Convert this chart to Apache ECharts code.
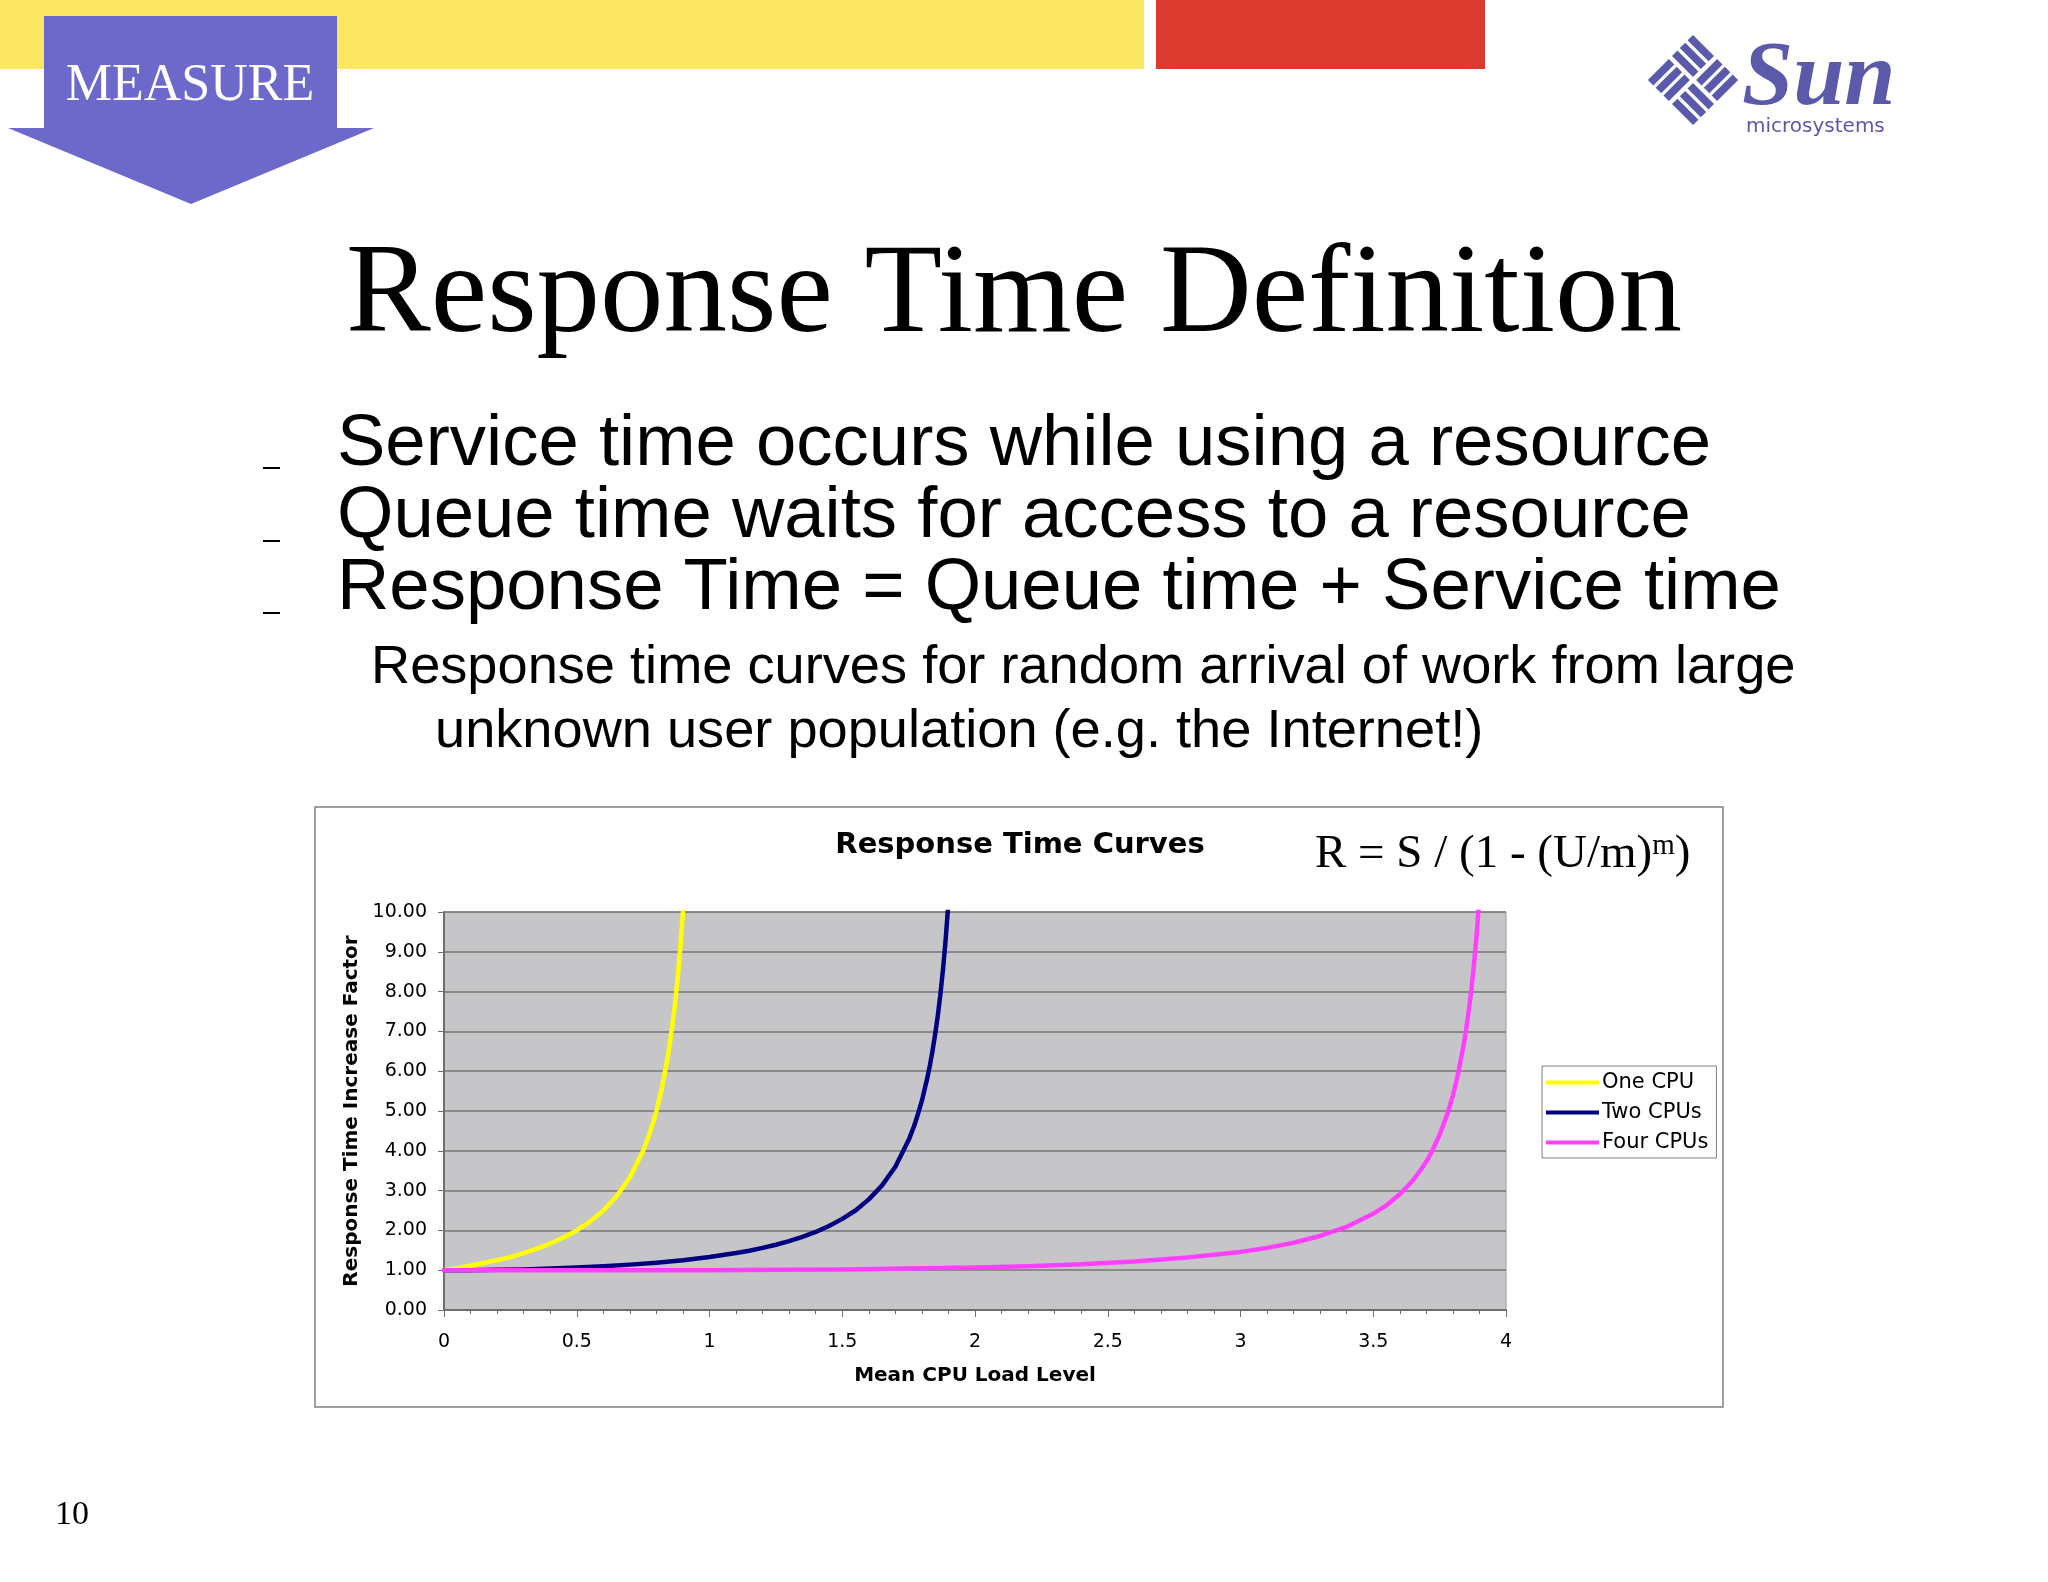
<!DOCTYPE html>
<html>
<head>
<meta charset="utf-8">
<script src="https://cdn.jsdelivr.net/npm/echarts@6/dist/echarts.min.js"></script>
<style>
html,body{margin:0;padding:0;background:#fff;}
#chart{width:2048px;height:1582px;}
</style>
</head>
<body>
<div id="chart"></div>
<script>
// ---- Data ----
const seriesNames = ['One CPU', 'Two CPUs', 'Four CPUs'];

const loadOne = [0, 0.05, 0.1, 0.15, 0.2, 0.25, 0.3, 0.35, 0.4, 0.45, 0.5, 0.55, 0.6, 0.65, 0.7, 0.75, 0.77, 0.79, 0.8, 0.82, 0.84, 0.85, 0.86, 0.87, 0.88, 0.89, 0.9];
const respOne = [1.00, 1.05, 1.11, 1.18, 1.25, 1.33, 1.43, 1.54, 1.67, 1.82, 2.00, 2.22, 2.50, 2.86, 3.33, 4.00, 4.35, 4.76, 5.00, 5.56, 6.25, 6.67, 7.14, 7.69, 8.33, 9.09, 10.00];

const loadTwo = [0, 0.1, 0.2, 0.3, 0.4, 0.5, 0.6, 0.7, 0.8, 0.9, 1.0, 1.05, 1.1, 1.15, 1.2, 1.25, 1.3, 1.35, 1.4, 1.45, 1.5, 1.55, 1.6, 1.65, 1.7, 1.75, 1.77, 1.78, 1.8, 1.82, 1.83, 1.84, 1.85, 1.86, 1.87, 1.88, 1.89, 1.9];
const respTwo = [1.00, 1.00, 1.01, 1.02, 1.04, 1.07, 1.10, 1.14, 1.19, 1.25, 1.33, 1.38, 1.43, 1.49, 1.56, 1.64, 1.73, 1.84, 1.96, 2.11, 2.29, 2.50, 2.78, 3.13, 3.60, 4.27, 4.61, 4.81, 5.26, 5.82, 6.14, 6.51, 6.93, 7.40, 7.95, 8.59, 9.35, 10.26];

const loadFour = [0, 0.25, 0.5, 0.75, 1.0, 1.25, 1.5, 1.75, 2.0, 2.2, 2.4, 2.6, 2.8, 3.0, 3.1, 3.2, 3.3, 3.4, 3.5, 3.55, 3.6, 3.65, 3.68, 3.7, 3.72, 3.75, 3.78, 3.8, 3.82, 3.84, 3.85, 3.86, 3.87, 3.88, 3.89, 3.9];
const respFour = [1.00, 1.00, 1.00, 1.00, 1.00, 1.01, 1.02, 1.04, 1.07, 1.10, 1.15, 1.22, 1.32, 1.46, 1.56, 1.69, 1.86, 2.09, 2.42, 2.63, 2.91, 3.26, 3.53, 3.73, 3.97, 4.40, 4.94, 5.39, 5.95, 6.64, 7.06, 7.53, 8.08, 8.72, 9.48, 10.38];

const xTickValues = ['0', '0.5', '1', '1.5', '2', '2.5', '3', '3.5', '4'];
const yTickValues = ['0.00', '1.00', '2.00', '3.00', '4.00', '5.00', '6.00', '7.00', '8.00', '9.00', '10.00'];

const bulletLines = [
  'Service time occurs while using a resource',
  'Queue time waits for access to a resource',
  'Response Time = Queue time + Service time'
];
const subLines = [
  'Response time curves for random arrival of work from large',
  'unknown user population (e.g. the Internet!)'
];

// ---- Build ----
function pairs(xs, ys) { return xs.map((x, i) => [x, ys[i]]); }

const chartFont = '"DejaVu Sans", Verdana, sans-serif';
const serif = '"Liberation Serif", "Times New Roman", serif';
const sans = '"Liberation Sans", Arial, sans-serif';
const sunColor = '#5B59A9';

// Sun logo stripes
const logoRects = [];
[-29, -19, -9].forEach(y => logoRects.push({type:'rect', shape:{x:-29, y:y, width:27, height:7}, style:{fill:sunColor}}));
[2, 12, 22].forEach(y => logoRects.push({type:'rect', shape:{x:2, y:y, width:27, height:7}, style:{fill:sunColor}}));
[2, 12, 22].forEach(x => logoRects.push({type:'rect', shape:{x:x, y:-29, width:7, height:27}, style:{fill:sunColor}}));
[-29, -19, -9].forEach(x => logoRects.push({type:'rect', shape:{x:x, y:2, width:7, height:27}, style:{fill:sunColor}}));

const graphics = [
  {type:'rect', shape:{x:0, y:0, width:1144, height:69}, style:{fill:'#FCE762'}},
  {type:'rect', shape:{x:1156, y:0, width:329, height:69}, style:{fill:'#DB3A2F'}},
  {type:'rect', shape:{x:44, y:16, width:293, height:113}, style:{fill:'#6D69CB'}},
  {type:'polygon', shape:{points:[[8,128],[374,128],[191,204]]}, style:{fill:'#6D69CB'}},
  {type:'text', x:190, y:86, style:{text:'MEASURE', fill:'#fff', fontSize:52, fontFamily:serif, align:'center', verticalAlign:'middle'}},
  {type:'group', x:1693, y:80, rotation:Math.PI/4, scaleX:1.1, scaleY:1.1, children:logoRects},
  {type:'text', x:1742, y:80, style:{text:'Sun', fill:sunColor, fontSize:92, fontStyle:'italic', fontWeight:'bold', fontFamily:serif, align:'left', verticalAlign:'middle'}},
  {type:'text', x:1746, y:127, style:{text:'microsystems', fill:sunColor, fontSize:20, fontFamily:chartFont, align:'left', verticalAlign:'middle'}},
  {type:'text', x:1014, y:298, style:{text:'Response Time Definition', fill:'#000', fontSize:127, fontFamily:serif, align:'center', verticalAlign:'middle'}},
  {type:'text', x:55, y:1515, style:{text:'10', fill:'#000', fontSize:34, fontFamily:serif, align:'left', verticalAlign:'middle'}},
  {type:'rect', shape:{x:315, y:807, width:1408, height:600}, style:{fill:'none', stroke:'#808080', lineWidth:1.5}},
  {type:'text', x:1020, y:845, style:{text:'Response Time Curves', fill:'#000', fontSize:29, fontWeight:'bold', fontFamily:chartFont, align:'center', verticalAlign:'middle'}},
  {type:'text', x:1315, y:855, style:{
    text:'{a|R = S / (1 - (U/m)}{b|m}{a|)}', align:'left', verticalAlign:'middle',
    rich:{
      a:{fontSize:47, fontFamily:serif, fill:'#000', lineHeight:47},
      b:{fontSize:29, fontFamily:serif, fill:'#000', verticalAlign:'top', lineHeight:47}
    }}}
];
const bulletBaselines = [445, 517, 589];
const dashY = [467, 540, 612];
bulletLines.forEach((t, i) => {
  graphics.push({type:'text', x:337, y:bulletBaselines[i], style:{text:t, fill:'#000', fontSize:72.5, fontFamily:sans, align:'left', verticalAlign:'middle'}});
  graphics.push({type:'rect', shape:{x:263, y:dashY[i], width:17, height:2}, style:{fill:'#000'}});
});
graphics.push({type:'text', x:371, y:668, style:{text:subLines[0], fill:'#000', fontSize:54.2, fontFamily:sans, align:'left', verticalAlign:'middle'}});
graphics.push({type:'text', x:435, y:732, style:{text:subLines[1], fill:'#000', fontSize:54.2, fontFamily:sans, align:'left', verticalAlign:'middle'}});

const colors = ['#FFFF00', '#000080', '#FF40FF'];
const data = [pairs(loadOne, respOne), pairs(loadTwo, respTwo), pairs(loadFour, respFour)];

const option = {
  animation: false,
  backgroundColor: '#ffffff',
  graphic: graphics,
  grid: {
    left: 444, top: 912, right: 2048 - 1506, bottom: 1582 - 1310,
    show: true, backgroundColor: '#C6C6C8', borderColor: '#9a9a9a', borderWidth: 1
  },
  legend: {
    orient: 'vertical', left: 1542, top: 1066,
    data: seriesNames,
    icon: 'rect', itemWidth: 53, itemHeight: 4, itemGap: 9,
    borderColor: '#808080', borderWidth: 1, padding: [6, 8, 5, 4],
    backgroundColor: '#fff',
    textStyle: {fontSize: 21, fontFamily: chartFont, color: '#000', padding: [0, 0, 0, -2]}
  },
  xAxis: {
    type: 'value', min: 0, max: 4, interval: 0.5,
    name: 'Mean CPU Load Level', nameLocation: 'middle', nameGap: 56,
    nameTextStyle: {fontSize: 20, fontWeight: 'bold', fontFamily: chartFont, color: '#000'},
    axisLine: {show: true, lineStyle: {color: '#6f6f6f', width: 2}},
    axisTick: {show: true, length: 7, lineStyle: {color: '#6f6f6f', width: 1}},
    minorTick: {show: true, splitNumber: 5, length: 4, lineStyle: {color: '#6f6f6f', width: 1}},
    axisLabel: {fontSize: 19, fontFamily: chartFont, color: '#000', margin: 23,
      formatter: v => xTickValues[Math.round(v * 2)]},
    splitLine: {show: false}
  },
  yAxis: {
    type: 'value', min: 0, max: 10, interval: 1,
    name: 'Response Time Increase Factor', nameLocation: 'middle', nameGap: 82,
    nameTextStyle: {fontSize: 20, fontWeight: 'bold', fontFamily: chartFont, color: '#000'},
    axisLine: {show: true, lineStyle: {color: '#6f6f6f', width: 2}},
    axisTick: {show: true, length: 6, lineStyle: {color: '#6f6f6f', width: 1}},
    axisLabel: {fontSize: 19, fontFamily: chartFont, color: '#000', margin: 17,
      formatter: v => yTickValues[Math.round(v)]},
    splitLine: {show: true, lineStyle: {color: '#767676', width: 1.5}}
  },
  series: seriesNames.map((n, i) => ({
    name: n, type: 'line', data: data[i], showSymbol: false, symbol: 'none',
    smooth: false, clip: true,
    lineStyle: {color: colors[i], width: 4.5, join: 'round', cap: 'round'},
    itemStyle: {color: colors[i]}
  }))
};

const chart = echarts.init(document.getElementById('chart'), null, {renderer: 'canvas'});
chart.setOption(option);
</script>
</body>
</html>
